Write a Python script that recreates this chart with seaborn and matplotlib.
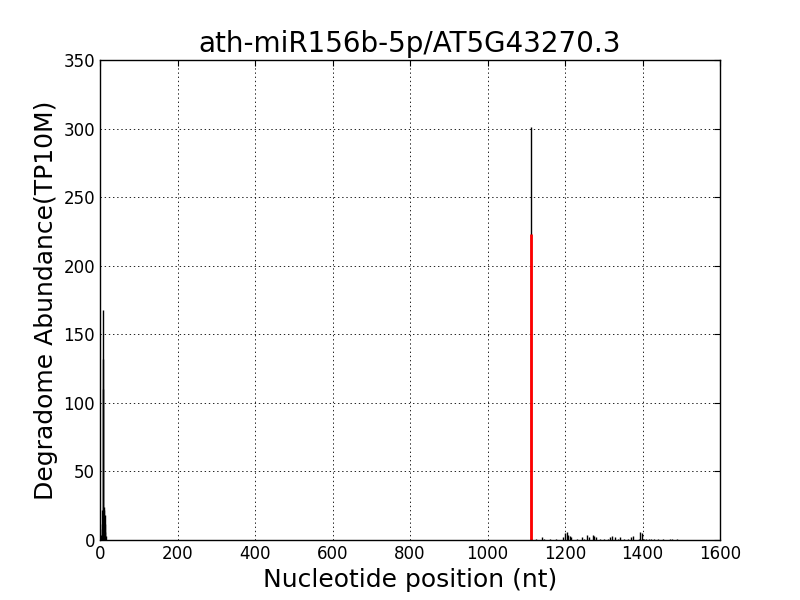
import matplotlib
matplotlib.use("Agg")
import matplotlib.pyplot as plt
import seaborn as sns
import pandas as pd

# Degradome tags along the transcript (position in nt, abundance in TP10M)
positions = [3, 4, 5, 6, 7, 8, 9, 10, 11, 12, 13, 14, 15,
             1112,
             1124, 1140, 1146, 1160, 1178, 1196, 1200, 1204, 1208, 1212, 1216,
             1230, 1244, 1250, 1256, 1262, 1272, 1276, 1280, 1290, 1300,
             1310, 1316, 1322, 1328, 1336, 1342, 1352, 1362, 1370, 1376,
             1390, 1394, 1398, 1404, 1410, 1416, 1422, 1430, 1440, 1452,
             1470, 1476, 1490]
abundance = [4, 8, 12, 22, 110, 132, 168, 24, 22, 18, 12, 6, 3,
             301,
             1, 2, 1, 1, 1, 2, 5, 6, 4, 3, 2,
             1, 2, 1, 4, 2, 4, 3, 2, 1, 1,
             1, 2, 3, 2, 1, 2, 1, 1, 2, 3,
             1, 6, 5, 1, 1, 1, 1, 1, 1, 1,
             1, 1, 1]

# Cleavage site of the miRNA
target_pos = [1112]
target_abundance = [223]

title = "ath-miR156b-5p/AT5G43270.3"

sns.set_style("white")
plt.rcParams.update({
    "xtick.direction": "in",
    "ytick.direction": "in",
    "xtick.major.size": 4,
    "ytick.major.size": 4,
    "xtick.top": True,
    "ytick.right": True,
    "axes.edgecolor": "black",
    "axes.linewidth": 1.0,
    "text.color": "black",
    "axes.labelcolor": "black",
    "lines.scale_dashes": False,
    "font.family": ["DejaVu Sans"],
})

df = pd.DataFrame({"pos": positions, "abund": abundance})
hit = pd.DataFrame({"pos": target_pos, "abund": target_abundance})

fig, ax = plt.subplots(figsize=(8, 6), dpi=100)
fig.subplots_adjust(left=0.125, right=0.9, bottom=0.1, top=0.9)

ax.vlines(df["pos"], 0, df["abund"], colors="black", linewidth=1)
ax.vlines(hit["pos"], 0, hit["abund"], colors="red", linewidth=2)

ax.set_xlim(0, 1600)
ax.set_ylim(0, 350)
ax.set_xticks(range(0, 1601, 200))
ax.set_yticks(range(0, 351, 50))
ax.tick_params(labelsize=12, colors="black")
ax.grid(True, color="black", linestyle=(0, (1, 2)), linewidth=0.6)
ax.set_axisbelow(True)

ax.set_title(title, fontsize=20)
ax.set_xlabel("Nucleotide position (nt)", fontsize=18)
ax.set_ylabel("Degradome Abundance(TP10M)", fontsize=18)

fig.savefig("out.png", dpi=100)
